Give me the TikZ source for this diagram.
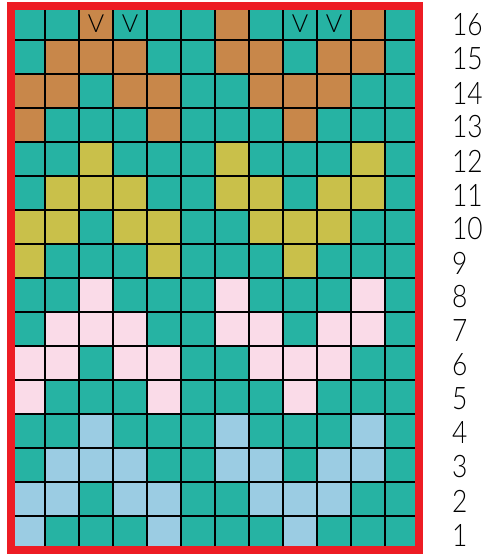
\documentclass[tikz,border=0pt]{standalone}
\usepackage{fontspec}
\setmainfont{Lato}[UprightFont={* Light}]
\definecolor{cT}{HTML}{26B3A3}
\definecolor{cB}{HTML}{C8874A}
\definecolor{cY}{HTML}{C9C04A}
\definecolor{cP}{HTML}{FADBE8}
\definecolor{cL}{HTML}{9BCCE3}
\definecolor{cR}{HTML}{ED1C24}
\tikzset{
  gridline/.style={black, line width=1.5pt},
  frame/.style={draw=cR, line width=7.4pt},
  rowlabel/.style={anchor=west, inner sep=0pt, xscale=0.85, font=\fontsize{31}{31}\selectfont},
  vmark/.style={inner sep=0pt, font=\fontsize{25}{25}\selectfont},
}
\begin{document}
\begin{tikzpicture}[x=1pt,y=-1pt]
\useasboundingbox (0,0) rectangle (492,554);
\foreach \r/\row in {
  16/{T,T,B,T,T,T,B,T,T,T,B,T},
  15/{T,B,B,B,T,T,B,B,T,B,B,T},
  14/{B,B,T,B,B,T,T,B,B,B,T,T},
  13/{B,T,T,T,B,T,T,T,B,T,T,T},
  12/{T,T,Y,T,T,T,Y,T,T,T,Y,T},
  11/{T,Y,Y,Y,T,T,Y,Y,T,Y,Y,T},
  10/{Y,Y,T,Y,Y,T,T,Y,Y,Y,T,T},
  9/{Y,T,T,T,Y,T,T,T,Y,T,T,T},
  8/{T,T,P,T,T,T,P,T,T,T,P,T},
  7/{T,P,P,P,T,T,P,P,T,P,P,T},
  6/{P,P,T,P,P,T,T,P,P,P,T,T},
  5/{P,T,T,T,P,T,T,T,P,T,T,T},
  4/{T,T,L,T,T,T,L,T,T,T,L,T},
  3/{T,L,L,L,T,T,L,L,T,L,L,T},
  2/{L,L,T,L,L,T,T,L,L,L,T,T},
  1/{L,T,T,T,L,T,T,T,L,T,T,T}}{
  \foreach \c [count=\i] in \row {
    \fill[c\c] ({11+34*(\i-1)},{6+34*(16-\r)}) rectangle ({11+34*\i},{6+34*(17-\r)});
  }
  \node[rowlabel] (lab\r) at (452,{6+34*(16-\r)+19}) {\r};
}
\foreach \k in {1,...,11} {
  \draw[gridline] ({11+34*\k},6) -- ({11+34*\k},550);
}
\foreach \k in {1,...,15} {
  \draw[gridline] (11,{6+34*\k}) -- (419,{6+34*\k});
}
\foreach \k in {3,4,9,10} {
  \node[vmark] (v\k) at ({11+34*(\k-1)+17},24) {V};
}
\draw[frame] (11,6) rectangle (419,550);
\end{tikzpicture}
\end{document}
